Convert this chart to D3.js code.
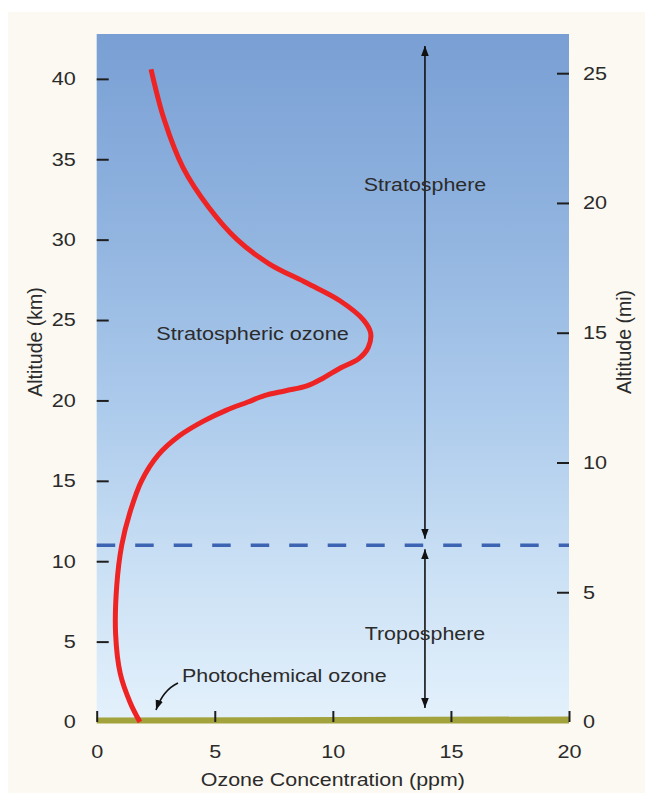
<!DOCTYPE html>
<html>
<head>
<meta charset="utf-8">
<script src="https://cdn.jsdelivr.net/npm/d3@7"></script>
<style>
  html, body { margin: 0; padding: 0; background: #ffffff; }
  svg { display: block; }
  text { font-family: "Liberation Sans", Arial, Helvetica, sans-serif; fill: #2b2b2b; }
</style>
</head>
<body>
<svg id="chart" width="645" height="803"></svg>
<script>
// ---------------- DATA ----------------
const altitudeKm = [40.6, 37.5, 34.5, 32.0, 30.0, 28.5, 27.3, 26.2, 25.0, 24.2, 23.3, 22.6, 22.0, 21.4, 20.9, 20.6, 20.3, 19.9, 19.4, 18.7, 17.8, 16.6, 15.0, 13.0, 11.0, 8.5, 5.5, 3.0, 1.2, 0];
const ozonePpm   = [2.3, 2.85, 3.65, 4.75, 5.95, 7.3, 8.9, 10.3, 11.3, 11.6, 11.5, 11.1, 10.3, 9.6, 8.9, 8.0, 7.1, 6.4, 5.5, 4.5, 3.5, 2.6, 1.9, 1.4, 1.06, 0.85, 0.8, 1.0, 1.42, 1.83];
const xTicks   = [0, 5, 10, 15, 20];
const kmTicks  = [0, 5, 10, 15, 20, 25, 30, 35, 40];
const miTicks  = [0, 5, 10, 15, 20, 25];
const tropopauseKm = 11;
const layerNames = ["Stratosphere", "Troposphere"];
const curveLabel = "Stratospheric ozone";
const groundLabel = "Photochemical ozone";
const xTitle = "Ozone Concentration (ppm)";
const yTitleLeft = "Altitude (km)";
const yTitleRight = "Altitude (mi)";

// ---------------- LAYOUT ----------------
const SX = 1.17;              // horizontal stretch of the lettering
const plot = { left: 96.7, right: 569, top: 34, bottom: 722 };

const svg = d3.select("#chart");

const x = d3.scaleLinear().domain([0, 20]).range([plot.left, plot.right]);
const y = d3.scaleLinear().domain([0, 42.79]).range([plot.bottom, plot.top]);
const yMi = d3.scaleLinear().domain([0, 26.51]).range([plot.bottom, plot.top]);

// cream panel
svg.append("rect").attr("x", 8).attr("y", 12).attr("width", 645 - 8).attr("height", 793 - 12)
  .attr("fill", "#fbf9f1");

// sky gradient
const defs = svg.append("defs");
const grad = defs.append("linearGradient").attr("id", "sky")
  .attr("x1", 0).attr("y1", 0).attr("x2", 0).attr("y2", 1);
[["0%", "#799fd4"], ["30%", "#92b5e0"], ["55%", "#adcbec"], ["80%", "#cde2f5"], ["100%", "#e4f1fc"]]
  .forEach(([o, c]) => grad.append("stop").attr("offset", o).attr("stop-color", c));

svg.append("rect").attr("x", plot.left).attr("y", plot.top)
  .attr("width", plot.right - plot.left).attr("height", plot.bottom - plot.top)
  .attr("fill", "url(#sky)");

// arrow marker
defs.append("marker").attr("id", "arr").attr("viewBox", "0 0 10 10")
  .attr("refX", 10).attr("refY", 5).attr("markerWidth", 10).attr("markerHeight", 10)
  .attr("markerUnits", "userSpaceOnUse").attr("orient", "auto-start-reverse")
  .append("path").attr("d", "M0,1.2 L10,5 L0,8.8 Z").attr("fill", "#111");

// helper for stretched text
function label(g, px, py, str, anchor, size, rot) {
  const t = g.append("text")
    .attr("transform", `translate(${px},${py})` + (rot ? ` rotate(${rot})` : "") + ` scale(${SX},1)`)
    .attr("text-anchor", anchor || "middle")
    .style("font-size", (size || 18) + "px")
    .text(str);
  return t;
}

// ---------------- LAYER ARROWS ----------------
const arrowX = x(13.9);
svg.append("line").attr("x1", arrowX).attr("x2", arrowX)
  .attr("y1", y(42.05)).attr("y2", y(11.4))
  .attr("stroke", "#111").attr("stroke-width", 1.6)
  .attr("marker-start", "url(#arr)").attr("marker-end", "url(#arr)");
svg.append("line").attr("x1", arrowX).attr("x2", arrowX)
  .attr("y1", y(10.75)).attr("y2", y(0.87))
  .attr("stroke", "#111").attr("stroke-width", 1.6)
  .attr("marker-start", "url(#arr)").attr("marker-end", "url(#arr)");

// tropopause dashed line
svg.append("line").attr("x1", plot.left).attr("x2", plot.right)
  .attr("y1", y(tropopauseKm)).attr("y2", y(tropopauseKm))
  .attr("stroke", "#3d63b3").attr("stroke-width", 3.5)
  .attr("stroke-dasharray", "18.5,20");

// layer labels
label(svg, arrowX, y(33.46) + 6.5, layerNames[0], "middle", 18.3);
label(svg, arrowX, y(5.53) + 6.5, layerNames[1], "middle", 18.3);

// ground band
svg.append("path")
  .attr("d", `M${plot.left},${plot.bottom - 4.5} L${plot.right},${plot.bottom - 5.5} L${plot.right},${plot.bottom + 1.5} L${plot.left},${plot.bottom + 1.5} Z`)
  .attr("fill", "#a2a33d");

// ---------------- OZONE CURVE ----------------
const pts = altitudeKm.map((k, i) => [ozonePpm[i], k]);
svg.append("path").datum(pts)
  .attr("d", d3.line().x(d => x(d[0])).y(d => y(d[1])).curve(d3.curveCatmullRom.alpha(0.5)))
  .attr("fill", "none").attr("stroke", "#ee2323").attr("stroke-width", 5)
  .attr("stroke-linecap", "butt");

// curve labels
label(svg, 252.5, 339.5, curveLabel, "middle", 18.5);
label(svg, 182, 682, groundLabel, "start", 18.3);

// photochemical arrow
svg.append("path")
  .attr("d", `M${178},${683} Q${163},${690} ${156},${710}`)
  .attr("fill", "none").attr("stroke", "#111").attr("stroke-width", 1.6)
  .attr("marker-end", "url(#arr)");

// ---------------- AXES ----------------
function styleAxis(g) {
  g.select(".domain").remove();
  g.selectAll(".tick line").attr("stroke", "#1e1e1e").attr("stroke-width", 2);
  g.selectAll(".tick text")
    .style("font-size", "18.5px").attr("fill", "#2b2b2b")
    .each(function () {
      const t = d3.select(this);
      const xx = +t.attr("x") || 0;
      t.attr("x", xx / SX).attr("transform", `scale(${SX},1)`);
    });
}

// left km axis (ticks inward)
const gL = svg.append("g").attr("transform", `translate(${plot.left},0)`)
  .call(d3.axisLeft(y).tickValues(kmTicks).tickSizeInner(-12).tickSizeOuter(0).tickPadding(21));
styleAxis(gL);
gL.selectAll(".tick").filter(d => d === 0).select("line").remove();

// right mi axis (ticks inward)
const gR = svg.append("g").attr("transform", `translate(${plot.right},0)`)
  .call(d3.axisRight(yMi).tickValues(miTicks).tickSizeInner(-12).tickSizeOuter(0).tickPadding(14));
styleAxis(gR);
gR.selectAll(".tick").filter(d => d === 0).select("line").remove();

// bottom x axis (ticks pointing up)
const gB = svg.append("g").attr("transform", `translate(0,${plot.bottom})`)
  .call(d3.axisBottom(x).tickValues(xTicks).tickSizeInner(-11).tickSizeOuter(0).tickPadding(23));
styleAxis(gB);
gB.selectAll(".tick text").attr("dy", "0.71em");

// axis titles
label(svg, (plot.left + plot.right) / 2, 786, xTitle, "middle", 18.3);
svg.append("text")
  .attr("transform", `translate(42,${342}) rotate(-90)`)
  .attr("text-anchor", "middle").style("font-size", "19.5px").text(yTitleLeft);
svg.append("text")
  .attr("transform", `translate(631,${342}) rotate(-90)`)
  .attr("text-anchor", "middle").style("font-size", "19.5px").text(yTitleRight);
</script>
</body>
</html>
